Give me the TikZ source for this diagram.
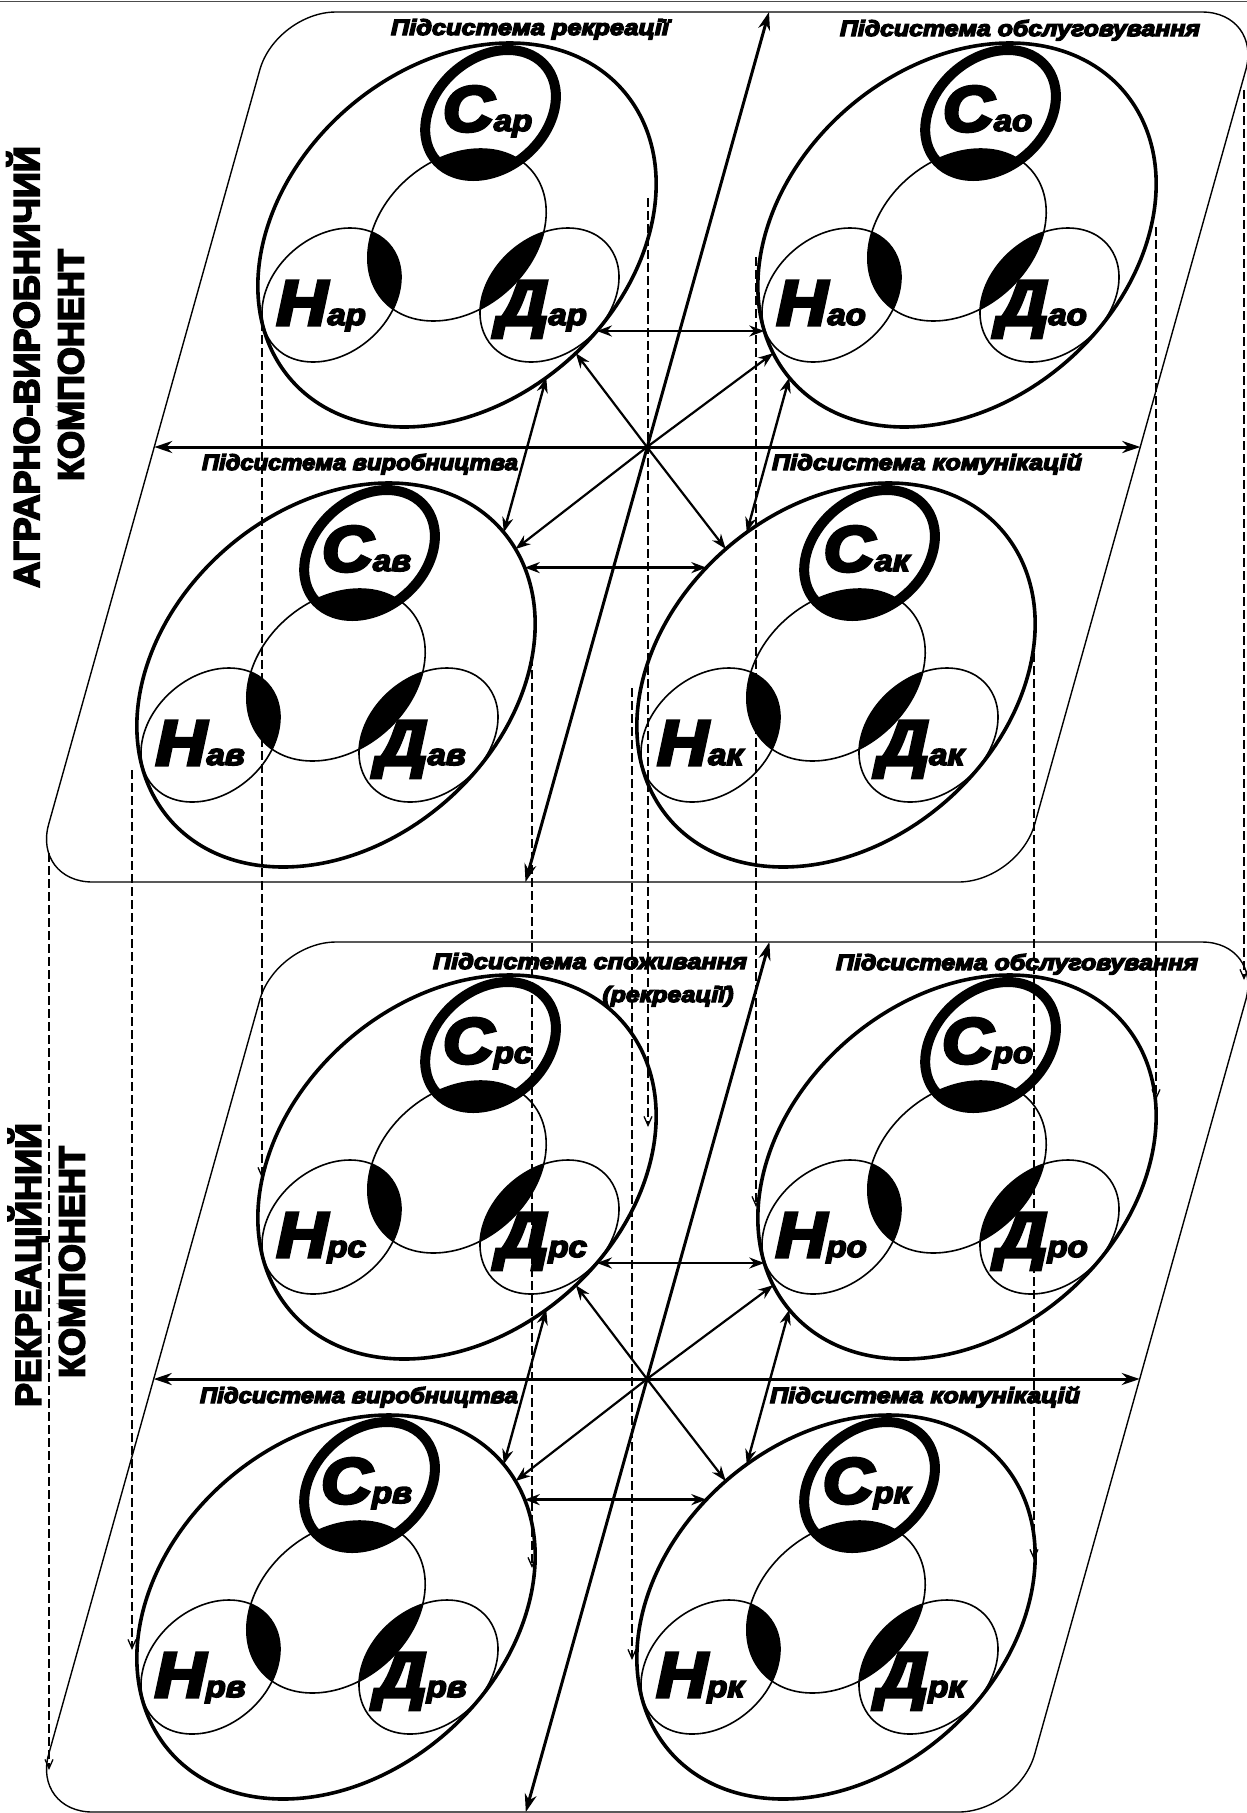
\documentclass[tikz,border=0pt]{standalone}
\usepackage{graphicx}
\usepackage{fontspec}
\setmainfont{Liberation Sans}
\usetikzlibrary{arrows.meta}
% emboldening by stroking the glyph outlines (text render mode 2)
\newcommand\stk[2]{\special{pdf:literal direct 2 Tr #1 w}#2\special{pdf:literal direct 0 Tr}}
\newcommand\biglet{\bfseries\itshape\fontsize{64}{64}\selectfont}
\newcommand\smalllet{\bfseries\itshape\fontsize{30}{30}\selectfont}
\newcommand\lab[2]{\scalebox{1.1}[1]{\stk{3.4}{\biglet #1}\stk{1.5}{\smalllet #2}}}
\newcommand\mygroup[4]{%
\begin{scope}[shift={(#2,#3)},xslant=0.275]
  \begin{scope}
    \clip (0,0) circle[radius=86pt];
    \fill (0,-122) circle[radius=63pt];
    \fill (-109,60) circle[radius=67pt];
    \fill (109,60) circle[radius=67pt];
  \end{scope}
  \draw[inner] (0,0) circle[radius=86pt];
  \draw[inner] (-109,60) circle[radius=67pt];
  \draw[inner] (109,60) circle[radius=67pt];
  \draw[ring] (0,-122) circle[radius=63pt];
  \draw[outer] (0,0) circle[radius=192pt];
  \node[letter] (#1-C) at (2,-104) {\lab{С}{#4}};
  \node[letter] (#1-N) at (-111,90) {\lab{Н}{#4}};
  \node[letter] (#1-D) at (110,90) {\lab{Д}{#4}};
  \coordinate (#1-a) at (166.3,96);
  \coordinate (#1-b) at (151.3,118.2);
  \coordinate (#1-c) at (128.5,142.7);
  \coordinate (#1-d) at (-166.3,96);
  \coordinate (#1-e) at (-151.3,118.2);
  \coordinate (#1-f) at (-128.5,142.7);
  \coordinate (#1-g) at (159.2,-107.4);
  \coordinate (#1-h) at (144.9,-126);
  \coordinate (#1-i) at (128.5,-142.7);
  \coordinate (#1-j) at (-159.2,-107.4);
  \coordinate (#1-k) at (-144.9,-126);
  \coordinate (#1-l) at (-128.5,-142.7);
\end{scope}}
\newcommand\sublab[2]{\resizebox{#1pt}{\height}{\stk{1.3}{#2}}}
\begin{document}
\begin{tikzpicture}[x=1pt,y=-1pt,
  outer/.style={line width=3.6pt},
  inner/.style={line width=1.6pt},
  ring/.style={line width=10pt},
  frame/.style={line width=1.4pt, rounded corners=60pt},
  biarrow/.style={line width=2.4pt, {Stealth[length=15pt,width=11pt]}-{Stealth[length=15pt,width=11pt]}},
  onearrow/.style={line width=2.2pt, -{Stealth[length=15pt,width=11pt]}},
  longarrow/.style={line width=3pt, {Stealth[length=18pt,width=12pt]}-{Stealth[length=18pt,width=12pt]}},
  dasharrow/.style={line width=1.3pt, dash pattern=on 9pt off 4pt, -{Straight Barb[length=9pt,width=8pt]}},
  letter/.style={anchor=base, inner sep=0pt},
  sublabel/.style={font=\bfseries\itshape\fontsize{22}{22}\selectfont, anchor=base, inner sep=0pt},
  vlabel/.style={font=\bfseries\fontsize{36}{36}\selectfont, rotate=90, inner sep=0pt},
]
\fill[white] (0,0) rectangle (1247,1813);
\useasboundingbox (0,0) rectangle (1247,1813);
\draw[black!70, line width=1.5pt] (0,1.5) -- (1247,1.5);

% frames
\draw[frame] (276,12) -- (1262,12) -- (1018.5,882) -- (32.5,882) -- cycle;
\draw[frame] (276,942) -- (1262,942) -- (1018.5,1812) -- (32.5,1812) -- cycle;

% vertical labels
\node[vlabel] (t1) at (23,367) {\stk{1.8}{АГРАРНО-ВИРОБНИЧИЙ}};
\node[vlabel] (t2) at (71,365) {\stk{1.8}{КОМПОНЕНТ}};
\node[vlabel] (t3) at (28,1265) {\stk{1.8}{РЕКРЕАЦІЙНИЙ}};
\node[vlabel] (t4) at (72,1262) {\stk{1.8}{КОМПОНЕНТ}};

% dashed connectors
\coordinate (d1s) at (262,322);  \coordinate (d1e) at (262,1178);
\coordinate (d2s) at (648,198);  \coordinate (d2e) at (648,1127);
\coordinate (d3s) at (756,257);  \coordinate (d3e) at (756,1207);
\coordinate (d4s) at (1156,227); \coordinate (d4e) at (1156,1100);
\coordinate (d5s) at (132,770);  \coordinate (d5e) at (132,1650);
\coordinate (d6s) at (532,657);  \coordinate (d6e) at (532,1568);
\coordinate (d7s) at (632,688);  \coordinate (d7e) at (632,1660);
\coordinate (d8s) at (1034,653); \coordinate (d8e) at (1034,1560);
\coordinate (d9s) at (49,853);   \coordinate (d9e) at (49,1770);
\coordinate (d10s) at (1244,90); \coordinate (d10e) at (1244,980);
\foreach \i in {1,...,10} {\draw[dasharrow] (d\i s) -- (d\i e);}

% groups
\mygroup{ar}{457}{235}{ар}
\mygroup{ao}{957}{235}{ао}
\mygroup{av}{336}{675}{ав}
\mygroup{ak}{836}{675}{ак}
\mygroup{rs}{457}{1167}{рс}
\mygroup{ro}{957}{1167}{ро}
\mygroup{rv}{336}{1607}{рв}
\mygroup{rk}{836}{1607}{рк}

% subsystem labels
\node[sublabel] (s1) at (530,35) {\sublab{278}{Підсистема рекреації}};
\node[sublabel] (s2) at (1020,36) {\sublab{360}{Підсистема обслуговування}};
\node[sublabel] (s3) at (360,470) {\sublab{316}{Підсистема виробництва}};
\node[sublabel] (s4) at (927,470) {\sublab{310}{Підсистема комунікацій}};
\node[sublabel] (s5) at (590,969) {\sublab{314}{Підсистема споживання}};
\node[sublabel] (s6) at (668,1002) {\sublab{131}{(рекреації)}};
\node[sublabel] (s7) at (1017,970) {\sublab{362}{Підсистема обслуговування}};
\node[sublabel] (s8) at (359,1403) {\sublab{318}{Підсистема виробництва}};
\node[sublabel] (s9) at (925,1403) {\sublab{310}{Підсистема комунікацій}};

% upper connectors
\coordinate (uc) at (647,447);
\coordinate (ul) at (154.3,447); \coordinate (ur) at (1140.3,447);
\coordinate (ut) at (769,12);    \coordinate (ub) at (525.5,882);
\draw[longarrow] (ul) -- (ur);
\draw[longarrow] (ut) -- (ub);
\draw[biarrow] (ar-a) -- (ao-d);
\draw[biarrow] (av-g) -- (ak-j);
\draw[biarrow] (ar-c) -- (av-i);
\draw[biarrow] (ao-f) -- (ak-l);
\draw[onearrow] (uc) -- (ar-b);
\draw[onearrow] (uc) -- (ao-e);
\draw[onearrow] (uc) -- (av-h);
\draw[onearrow] (uc) -- (ak-k);

% lower connectors
\coordinate (lc) at (647,1379);
\coordinate (ll) at (153.7,1379); \coordinate (lr) at (1139.7,1379);
\coordinate (lt) at (769.4,942);  \coordinate (lb) at (525.8,1812);
\draw[longarrow] (ll) -- (lr);
\draw[longarrow] (lt) -- (lb);
\draw[biarrow] (rs-a) -- (ro-d);
\draw[biarrow] (rv-g) -- (rk-j);
\draw[biarrow] (rs-c) -- (rv-i);
\draw[biarrow] (ro-f) -- (rk-l);
\draw[onearrow] (lc) -- (rs-b);
\draw[onearrow] (lc) -- (ro-e);
\draw[onearrow] (lc) -- (rv-h);
\draw[onearrow] (lc) -- (rk-k);
\end{tikzpicture}
\end{document}
